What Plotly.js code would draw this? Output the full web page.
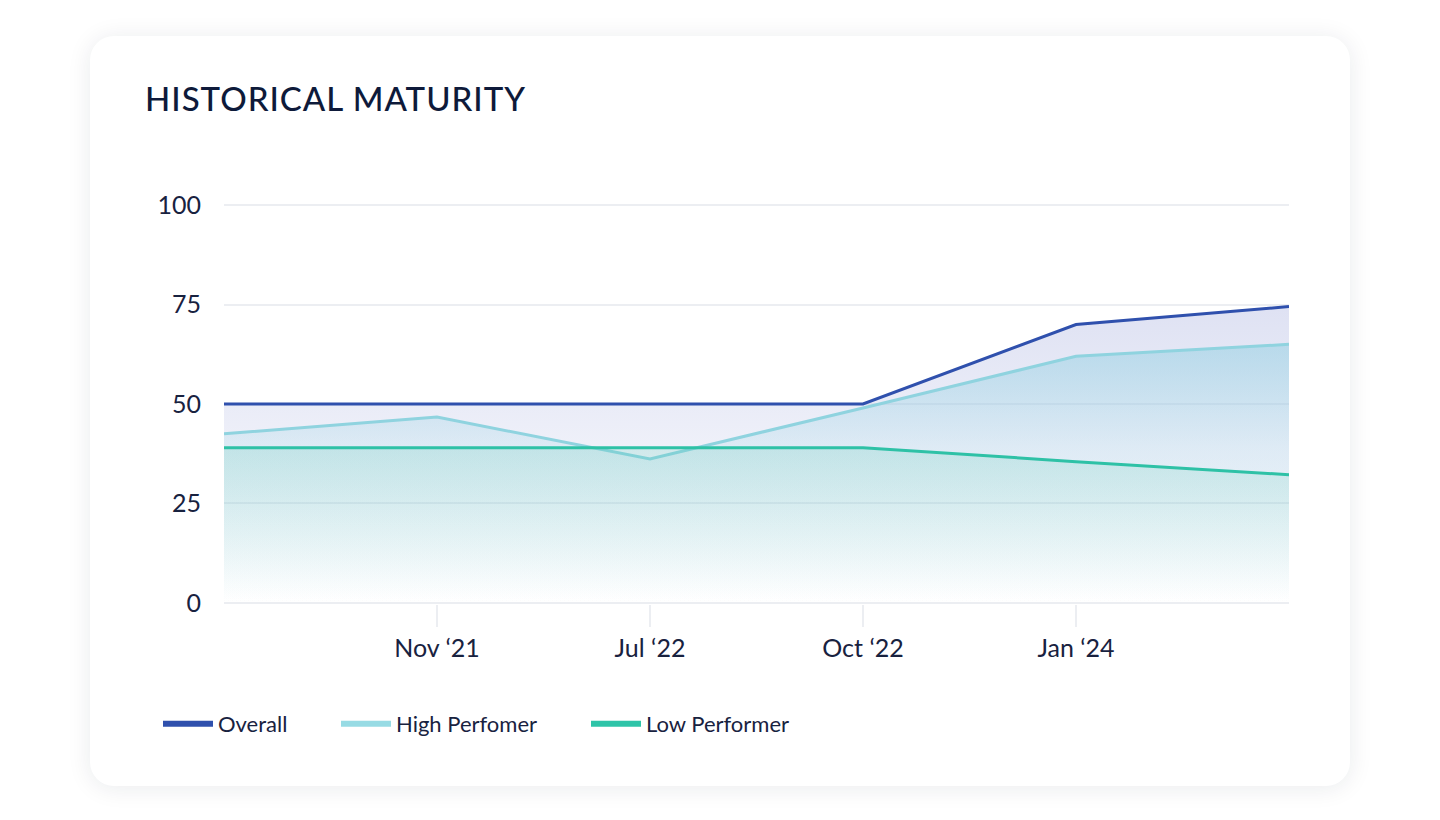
<!DOCTYPE html>
<html>
<head>
<meta charset="utf-8">
<script src="https://cdn.plot.ly/plotly-3.0.1.min.js"></script>
<style>
  html, body { margin:0; padding:0; background:#ffffff; width:1440px; height:820px; overflow:hidden; }
  #card { position:absolute; left:90px; top:36px; width:1260px; height:750px; background:#fff;
          border-radius:24px; box-shadow:0 2px 24px rgba(20,30,60,0.09); }
  #chart { position:absolute; left:0; top:0; width:1440px; height:820px; }
</style>
</head>
<body>
<div id="card"></div>
<div id="chart"></div>
<script>
// ---- data ----
const xIndex = [0, 1, 2, 3, 4, 5];
const tickPositions = [1, 2, 3, 4];
const tickLabels = ['Nov \u201821', 'Jul \u201822', 'Oct \u201822', 'Jan \u201824'];
const overall = [50, 50, 50, 50, 70, 74.5];
const highPerformer = [42.5, 46.7, 36.2, 49, 62, 65];
const lowPerformer = [39, 39, 39, 39, 35.5, 32.2];
const seriesNames = ['Overall', 'High Perfomer', 'Low Performer'];
const yTicks = [0, 25, 50, 75, 100];

const colors = { overall: '#2f50ad', high: '#8fd3df', low: '#2ec1a6' };
const legendColors = { overall: '#2f50ad', high: '#97dbe4', low: '#2ec4a8' };
const FONT = 'Lato, "Open Sans", sans-serif';
const TEXT = '#18223f';

const traces = [
  {
    x: xIndex, y: overall, type: 'scatter', mode: 'lines', name: seriesNames[0],
    line: { color: colors.overall, width: 3 }, fill: 'tozeroy',
    fillgradient: { type: 'vertical', start: 0, stop: 75,
      colorscale: [[0, 'rgba(192,198,232,0)'], [0.6, 'rgba(192,198,232,0.3)'], [1, 'rgba(192,198,232,0.52)']] },
    showlegend: false, hoverinfo: 'skip'
  },
  {
    x: xIndex, y: highPerformer, type: 'scatter', mode: 'lines', name: seriesNames[1],
    line: { color: colors.high, width: 3 }, fill: 'tozeroy',
    fillgradient: { type: 'vertical', start: 0, stop: 65,
      colorscale: [[0, 'rgba(120,200,220,0)'], [0.6, 'rgba(120,200,220,0.14)'], [1, 'rgba(120,200,220,0.4)']] },
    showlegend: false, hoverinfo: 'skip'
  },
  {
    x: xIndex, y: lowPerformer, type: 'scatter', mode: 'lines', name: seriesNames[2],
    line: { color: colors.low, width: 3 }, fill: 'tozeroy',
    fillgradient: { type: 'vertical', start: 0, stop: 40,
      colorscale: [[0, 'rgba(80,200,175,0)'], [0.12, 'rgba(80,200,175,0.02)'], [1, 'rgba(80,200,175,0.2)']] },
    showlegend: false, hoverinfo: 'skip'
  },
  // legend entries (thicker swatches), one legend each so they can be placed exactly
  { x: [null], y: [null], type: 'scatter', mode: 'lines', name: seriesNames[0], legend: 'legend',  line: { color: legendColors.overall, width: 6 } },
  { x: [null], y: [null], type: 'scatter', mode: 'lines', name: seriesNames[1], legend: 'legend2', line: { color: legendColors.high, width: 6 } },
  { x: [null], y: [null], type: 'scatter', mode: 'lines', name: seriesNames[2], legend: 'legend3', line: { color: legendColors.low, width: 6 } }
];

function legendAt(px) {
  return {
    orientation: 'h', xref: 'container', yref: 'container',
    x: px / 1440, xanchor: 'left', y: 1 - 724 / 820, yanchor: 'middle',
    font: { size: 22, color: TEXT, family: FONT }, itemwidth: 50,
    bgcolor: 'rgba(0,0,0,0)', borderwidth: 0
  };
}

const layout = {
  width: 1440, height: 820,
  paper_bgcolor: 'rgba(0,0,0,0)', plot_bgcolor: 'rgba(0,0,0,0)',
  margin: { l: 224, r: 151, t: 204, b: 216 },
  font: { family: FONT, color: TEXT },
  title: {
    text: 'HISTORICAL MATURITY', xref: 'container', yref: 'container',
    x: 145 / 1440, xanchor: 'left', y: 1 - 99 / 820, yanchor: 'middle',
    font: { family: 'Lato, sans-serif', size: 33, color: '#0e1a3a', weight: 500 }
  },
  xaxis: {
    range: [0, 5], tickvals: tickPositions, ticktext: tickLabels,
    showgrid: false, zeroline: false, showline: false,
    ticks: 'outside', ticklen: 22, tickwidth: 2, tickcolor: '#eceef2',
    ticklabelstandoff: 0,
    tickfont: { size: 25, color: TEXT, family: FONT }, fixedrange: true
  },
  yaxis: {
    range: [-0.3, 100.3], tickvals: yTicks, showgrid: true, gridcolor: '#eceef2', gridwidth: 2,
    zeroline: false, showline: false, ticks: '', ticklabelstandoff: 22,
    tickfont: { size: 25, color: TEXT, family: FONT }, fixedrange: true
  },
  showlegend: true,
  legend: legendAt(158),
  legend2: legendAt(336),
  legend3: legendAt(586),
  hovermode: false
};

Plotly.newPlot('chart', traces, layout, { displayModeBar: false, staticPlot: true }).then(function () {
  // letter-spaced title as in the reference
  document.querySelectorAll('.gtitle').forEach(function (t) { t.style.letterSpacing = '1px'; });
});
</script>
</body>
</html>
